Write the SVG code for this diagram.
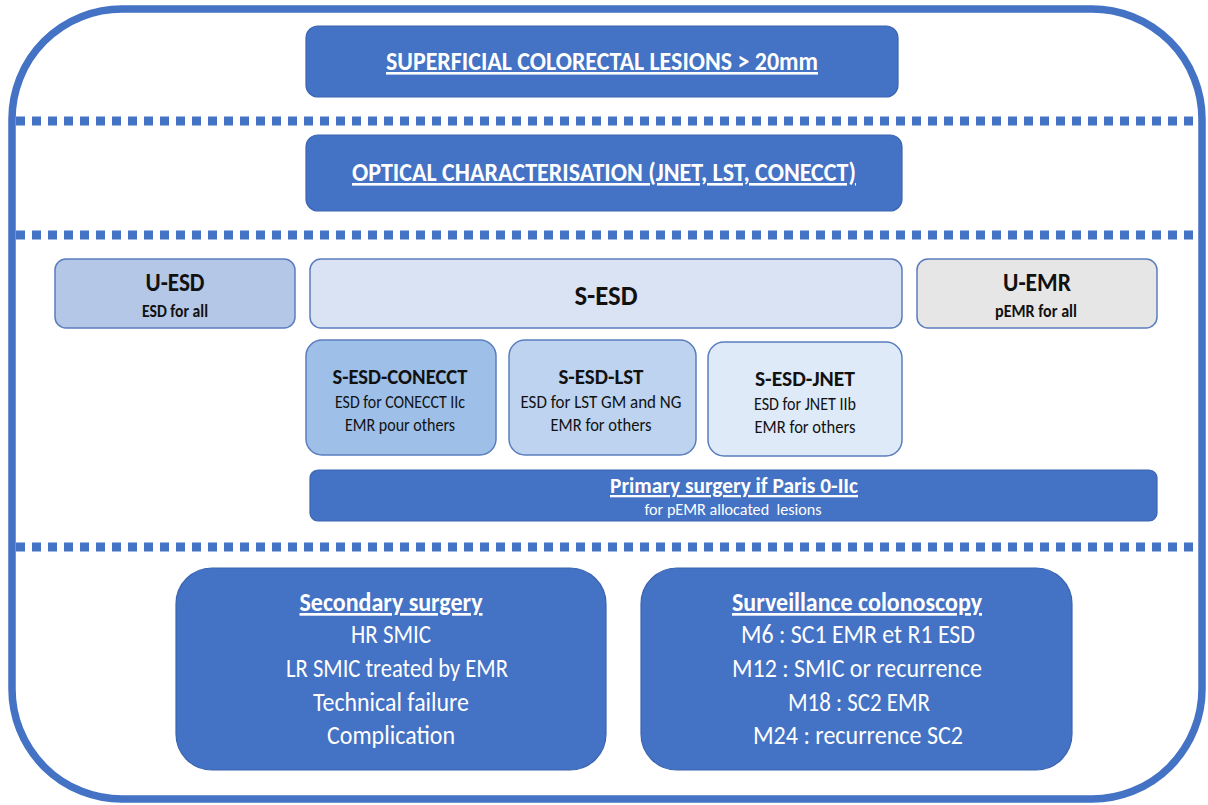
<svg xmlns="http://www.w3.org/2000/svg" width="1208" height="805" viewBox="0 0 1208 805">
<style>
text{font-family:Carlito,"Liberation Sans Narrow","Liberation Sans",Arial,sans-serif;text-anchor:middle;white-space:pre}
.dark{fill:#4472C4;stroke:#3A64B0;stroke-width:1.2}
.l1{fill:#B4C7E7;stroke:#5B7DBD;stroke-width:1.5}
.l2{fill:#DAE3F3;stroke:#5B7DBD;stroke-width:1.5}
.l3{fill:#E7E6E6;stroke:#5B7DBD;stroke-width:1.5}
.c1{fill:#9DBFE8;stroke:#5B7DBD;stroke-width:1.5}
.c2{fill:#BDD3EF;stroke:#5B7DBD;stroke-width:1.5}
.c3{fill:#DEEAF8;stroke:#5B7DBD;stroke-width:1.5}
.w{fill:#FFFFFF}
.k{fill:#111111}
.b{font-weight:bold}
.u{text-decoration:underline}
.dot{stroke:#4472C4;stroke-width:9;stroke-dasharray:9 7;fill:none}
</style>
<rect id="frame" x="12" y="9" width="1190" height="790" rx="110" ry="110" fill="none" stroke="#4472C4" stroke-width="7.5"/>
<g id="connectors">
<line class="dot" x1="16" y1="121" x2="1204" y2="121"/>
<line class="dot" x1="16" y1="235" x2="1204" y2="235"/>
<line class="dot" x1="16" y1="547" x2="1204" y2="547"/>
</g>
<g id="n-lesions">
<rect class="dark" x="306" y="26" width="592" height="71" rx="12"/>
<text class="w b u" x="602" y="70" font-size="26" textLength="432" lengthAdjust="spacingAndGlyphs">SUPERFICIAL COLORECTAL LESIONS &gt; 20mm</text>
</g>
<g id="n-optical">
<rect class="dark" x="306" y="135" width="596" height="76" rx="12"/>
<text class="w b u" x="604" y="181" font-size="26" textLength="504" lengthAdjust="spacingAndGlyphs">OPTICAL CHARACTERISATION (JNET, LST, CONECCT)</text>
</g>
<g id="n-uesd">
<rect class="l1" x="55" y="259" width="240" height="69" rx="11"/>
<text class="k b" x="175" y="291" font-size="26" textLength="59" lengthAdjust="spacingAndGlyphs">U-ESD</text>
<text class="k b" x="175" y="317" font-size="17.5" textLength="66" lengthAdjust="spacingAndGlyphs">ESD for all</text>
</g>
<g id="n-sesd">
<rect class="l2" x="310" y="259" width="592" height="69" rx="11"/>
<text class="k b" x="606" y="305" font-size="29" textLength="63" lengthAdjust="spacingAndGlyphs">S-ESD</text>
</g>
<g id="n-uemr">
<rect class="l3" x="917" y="259" width="240" height="69" rx="11"/>
<text class="k b" x="1037" y="291" font-size="26" textLength="68" lengthAdjust="spacingAndGlyphs">U-EMR</text>
<text class="k b" x="1036" y="317" font-size="17.5" textLength="82" lengthAdjust="spacingAndGlyphs">pEMR for all</text>
</g>
<g id="n-conecct">
<rect class="c1" x="306" y="340" width="190" height="115" rx="16"/>
<text class="k b" x="400" y="384" font-size="23" textLength="135" lengthAdjust="spacingAndGlyphs">S-ESD-CONECCT</text>
<text class="k" x="400" y="408" font-size="17.5" textLength="130" lengthAdjust="spacingAndGlyphs">ESD for CONECCT IIc</text>
<text class="k" x="400" y="431" font-size="17.5" textLength="110" lengthAdjust="spacingAndGlyphs">EMR pour others</text>
</g>
<g id="n-lst">
<rect class="c2" x="509" y="340" width="187" height="115" rx="16"/>
<text class="k b" x="601" y="384" font-size="23" textLength="85" lengthAdjust="spacingAndGlyphs">S-ESD-LST</text>
<text class="k" x="601" y="408" font-size="17.5" textLength="161" lengthAdjust="spacingAndGlyphs">ESD for LST GM and NG</text>
<text class="k" x="601" y="431" font-size="17.5" textLength="101" lengthAdjust="spacingAndGlyphs">EMR for others</text>
</g>
<g id="n-jnet">
<rect class="c3" x="708" y="342" width="194" height="114" rx="16"/>
<text class="k b" x="805" y="386" font-size="23" textLength="100" lengthAdjust="spacingAndGlyphs">S-ESD-JNET</text>
<text class="k" x="805" y="410" font-size="17.5" textLength="102" lengthAdjust="spacingAndGlyphs">ESD for JNET IIb</text>
<text class="k" x="805" y="433" font-size="17.5" textLength="101" lengthAdjust="spacingAndGlyphs">EMR for others</text>
</g>
<g id="n-primary">
<rect class="dark" x="310" y="470" width="847" height="51" rx="8"/>
<text class="w b u" x="734" y="493" font-size="23" textLength="248" lengthAdjust="spacingAndGlyphs">Primary surgery if Paris 0-IIc</text>
<text class="w" x="733" y="515" font-size="17" textLength="177" lengthAdjust="spacingAndGlyphs">for pEMR allocated  lesions</text>
</g>
<g id="n-secondary">
<rect class="dark" x="176" y="568" width="430" height="202" rx="36"/>
<text class="w b u" x="391" y="611" font-size="27" textLength="183" lengthAdjust="spacingAndGlyphs">Secondary surgery</text>
<text class="w" x="391" y="643" font-size="27" textLength="80" lengthAdjust="spacingAndGlyphs">HR SMIC</text>
<text class="w" x="397" y="677" font-size="27" textLength="222" lengthAdjust="spacingAndGlyphs">LR SMIC treated by EMR</text>
<text class="w" x="391" y="711" font-size="27" textLength="156" lengthAdjust="spacingAndGlyphs">Technical failure</text>
<text class="w" x="391" y="744" font-size="27" textLength="128" lengthAdjust="spacingAndGlyphs">Complication</text>
</g>
<g id="n-surveillance">
<rect class="dark" x="641" y="568" width="431" height="202" rx="36"/>
<text class="w b u" x="857" y="611" font-size="27" textLength="250" lengthAdjust="spacingAndGlyphs">Surveillance colonoscopy</text>
<text class="w" x="858" y="643" font-size="27" textLength="234" lengthAdjust="spacingAndGlyphs">M6 : SC1 EMR et R1 ESD</text>
<text class="w" x="857" y="677" font-size="27" textLength="250" lengthAdjust="spacingAndGlyphs">M12 : SMIC or recurrence</text>
<text class="w" x="859" y="711" font-size="27" textLength="142" lengthAdjust="spacingAndGlyphs">M18 : SC2 EMR</text>
<text class="w" x="858" y="744" font-size="27" textLength="210" lengthAdjust="spacingAndGlyphs">M24 : recurrence SC2</text>
</g>
</svg>
